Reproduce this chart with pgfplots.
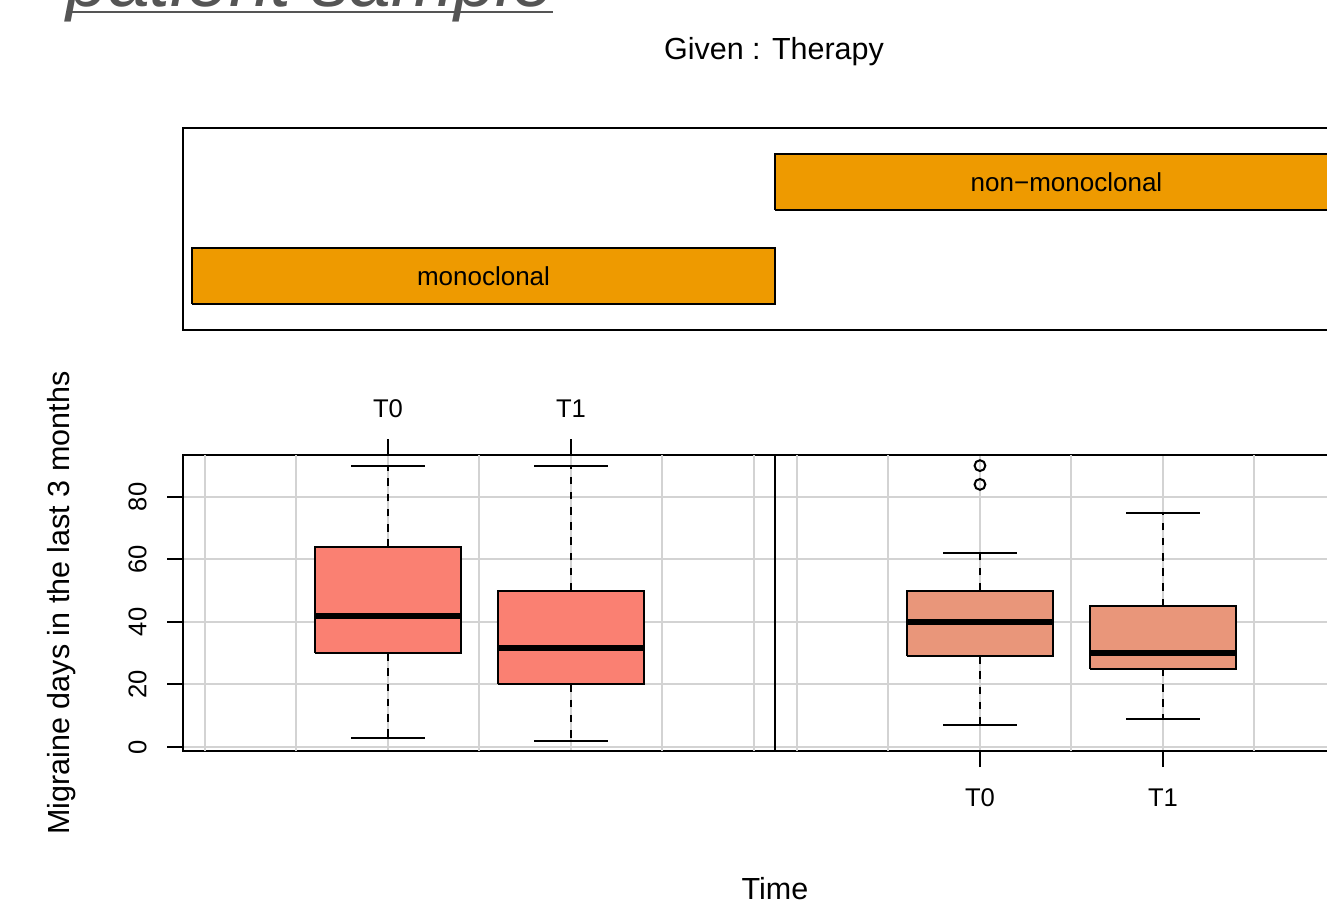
\documentclass[border=0pt]{standalone}
\usepackage{pgfplots}
\pgfplotsset{compat=1.18}
\usepackage{fontspec}
\setmainfont{Liberation Sans}
\definecolor{barorange}{RGB}{238,154,0}
\definecolor{salmonc}{RGB}{250,128,114}
\definecolor{dsalmon}{RGB}{233,150,122}
\definecolor{gridc}{RGB}{211,211,211}
\definecolor{titlegrey}{RGB}{85,85,85}
\pgfplotsset{
  panel/.style={
    scale only axis, width=296pt, height=148pt,
    anchor=south west,
    xmin=-0.12, xmax=3.115, ymin=-1.3, ymax=93.4,
    axis line style={line width=1pt},
    grid=major, major grid style={gridc, line width=1pt},
    xtick={1,2}, xticklabels={T0,T1},
    ytick={0,20,40,60,80},
    extra x ticks={0,0.5,1.5,2.5,3},
    extra x tick labels={},
    extra x tick style={grid=major, major tick length=0pt},
    tick align=outside, major tick length=8pt,
    every tick/.style={black, line width=1pt},
    tick label style={font=\fontsize{12.8}{15}\selectfont},
    /pgf/number format/assume math mode=true,
    yticklabel style={rotate=90, anchor=south, inner xsep=0pt, inner ysep=10pt},
    clip=false,
  },
  whisk/.style={black, line width=1pt, dash pattern=on 3.8pt off 3.8pt},
  cap/.style={black, line width=1pt},
  med/.style={black, line width=3pt},
}
\begin{document}
\begin{tikzpicture}
\useasboundingbox (0,0) rectangle (663.5pt,452.5pt);
\begin{scope}
\clip (0,0) rectangle (663.5pt,452.5pt);

% title (cut off at the top, as in the reference)
\node[anchor=base west, inner sep=0pt, text=titlegrey,
      font=\fontsize{37.5}{45}\selectfont\itshape] at (33pt,449pt) {patient sample};
\draw[titlegrey, line width=1.15pt] (33pt,446.5pt) -- (276.5pt,446.5pt);

\node[anchor=base, inner sep=0pt, font=\fontsize{15.25}{18}\selectfont] at (387pt,422.5pt) {Given : Therapy};

% given panel
\begin{axis}[scale only axis, width=592pt, height=101pt, at={(91.5pt,287.5pt)}, anchor=south west,
  xmin=183, xmax=1367, ymin=0, ymax=202, xtick=\empty, ytick=\empty,
  axis line style={line width=1pt}, clip=false]
\addplot[fill=barorange, draw=black, line width=0.9pt] coordinates {(192,26) (775,26) (775,82) (192,82) (192,26)};
\addplot[fill=barorange, draw=black, line width=0.9pt] coordinates {(775,120) (1358,120) (1358,176) (775,176) (775,120)};
\node[font=\fontsize{13}{15}\selectfont] at (axis cs:483.5,54) {monoclonal};
\node[font=\fontsize{13}{15}\selectfont] at (axis cs:1066.5,148) {non−monoclonal};
\end{axis}

% left panel: monoclonal
\begin{axis}[panel, at={(91.5pt,77pt)},
  xtick pos=right, xticklabel pos=right, ytick pos=left, yticklabel pos=left,
  xticklabel style={anchor=south, inner xsep=0pt, inner ysep=10.5pt}]
% T0
\addplot[whisk] coordinates {(1,30) (1,3)};
\addplot[whisk] coordinates {(1,64) (1,90)};
\addplot[cap] coordinates {(0.8,3) (1.2,3)};
\addplot[cap] coordinates {(0.8,90) (1.2,90)};
\addplot[fill=salmonc, draw=black, line width=1pt] coordinates {(0.6,30) (1.4,30) (1.4,64) (0.6,64) (0.6,30)};
\addplot[med] coordinates {(0.6,42) (1.4,42)};
% T1
\addplot[whisk] coordinates {(2,20) (2,2)};
\addplot[whisk] coordinates {(2,50) (2,90)};
\addplot[cap] coordinates {(1.8,2) (2.2,2)};
\addplot[cap] coordinates {(1.8,90) (2.2,90)};
\addplot[fill=salmonc, draw=black, line width=1pt] coordinates {(1.6,20) (2.4,20) (2.4,50) (1.6,50) (1.6,20)};
\addplot[med] coordinates {(1.6,31.5) (2.4,31.5)};
\end{axis}

% right panel: non-monoclonal
\begin{axis}[panel, at={(387.5pt,77pt)},
  xtick pos=left, xticklabel pos=left, ytick pos=right, yticklabel pos=right, yticklabels={},
  xticklabel style={anchor=north, inner xsep=0pt, inner ysep=10.8pt}]
% T0
\addplot[whisk] coordinates {(1,29) (1,7)};
\addplot[whisk] coordinates {(1,50) (1,62)};
\addplot[cap] coordinates {(0.8,7) (1.2,7)};
\addplot[cap] coordinates {(0.8,62) (1.2,62)};
\addplot[fill=dsalmon, draw=black, line width=1pt] coordinates {(0.6,29) (1.4,29) (1.4,50) (0.6,50) (0.6,29)};
\addplot[med] coordinates {(0.6,40) (1.4,40)};
\addplot[only marks, mark=o, mark size=2.7pt, mark options={black, line width=1pt}] coordinates {(1,84) (1,90)};
% T1
\addplot[whisk] coordinates {(2,25) (2,9)};
\addplot[whisk] coordinates {(2,45) (2,75)};
\addplot[cap] coordinates {(1.8,9) (2.2,9)};
\addplot[cap] coordinates {(1.8,75) (2.2,75)};
\addplot[fill=dsalmon, draw=black, line width=1pt] coordinates {(1.6,25) (2.4,25) (2.4,45) (1.6,45) (1.6,25)};
\addplot[med] coordinates {(1.6,30) (2.4,30)};
\end{axis}

\node[anchor=base, inner sep=0pt, font=\fontsize{15.25}{18}\selectfont] at (387.5pt,3pt) {Time};
\node[rotate=90, anchor=base, inner sep=0pt, font=\fontsize{15.25}{18}\selectfont] at (35pt,151pt) {Migraine days in the last 3 months};
\end{scope}
\end{tikzpicture}
\end{document}
